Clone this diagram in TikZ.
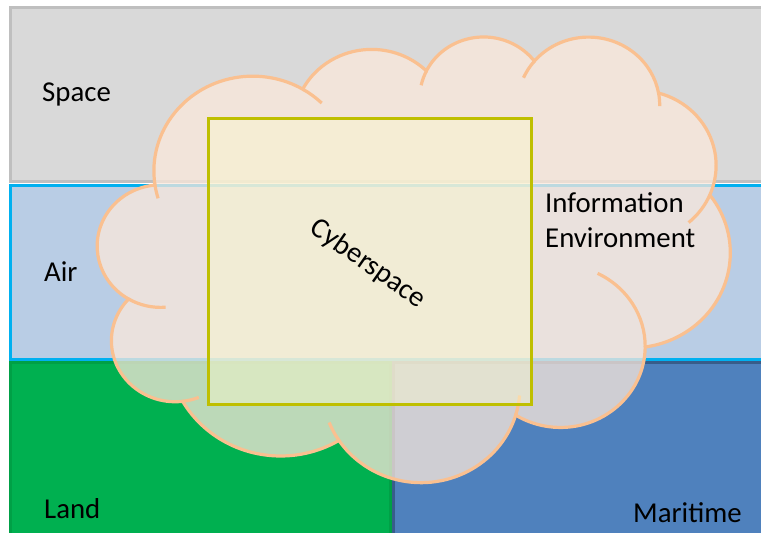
\documentclass[tikz,border=0pt]{standalone}
\usepackage{fontspec}
\setmainfont{Carlito}

\definecolor{spacefill}{HTML}{D9D9D9}
\definecolor{spaceline}{HTML}{BFBFBF}
\definecolor{airfill}{HTML}{B9CDE5}
\definecolor{airline}{HTML}{00B0F0}
\definecolor{landfill}{HTML}{00B050}
\definecolor{landline}{HTML}{00A046}
\definecolor{seafill}{HTML}{4F81BD}
\definecolor{sealine}{HTML}{385D8A}
\definecolor{cloudfill}{HTML}{FBE8DB}
\definecolor{cloudline}{HTML}{FAC090}
\definecolor{cyberfill}{HTML}{FAFACD}
\definecolor{cyberline}{HTML}{BFBF00}

\tikzset{%
  % Specifications for style of bands, labels and the cloud:
  band/.style={line width=3pt},
  domainlabel/.style={inner sep=0pt, anchor=base west, font=\fontsize{28.8}{35}\selectfont},
  cloud edge/.style={draw=cloudline, line width=3.2pt},
  cyber box/.style={draw=cyberline, line width=3pt, fill=cyberfill, fill opacity=0.45},
}

\begin{document}
\begin{tikzpicture}[x=1pt, y=1pt, yscale=-1]
    \useasboundingbox (0,0) rectangle (761,533);
    \clip (0,0) rectangle (761,533);
    \fill[white] (0,0) rectangle (761,533);

    % physical domains
    \draw[band, draw=spaceline, fill=spacefill] (10,7) rectangle (770,181.5);
    \draw[band, draw=airline, fill=airfill] (10,185.5) rectangle (770,359.5);
    \draw[band, draw=landline, fill=landfill] (10,362.5) rectangle (390,540);
    \draw[band, draw=sealine, fill=seafill] (393,362.5) rectangle (770,540);

    \node[domainlabel] (space) at (42,101) {Space};
    \node[domainlabel] (air) at (44,281) {Air};
    \node[domainlabel] (land) at (44,518) {Land};
    \node[domainlabel] (maritime) at (633,522) {Maritime};

    % cloud: eleven elliptic bumps (radii / start / end angle), chained
    \path[cloud edge, fill=cloudfill, fill opacity=0.75]
      (154.8,183.7)
      foreach \rx/\ry/\ta/\tb in {
        98.84/94.77/172.25/300.37,
        78.06/74.94/-152.01/-45.44,
        63.89/61.30/-153.50/-37.33,
        71.09/68.01/-139.70/-10.21,
        78.06/75.00/-74.77/23.21,
        99.17/95.08/-37.52/81.86,
        84.68/81.12/0.46/121.97,
        98.83/95.03/16.84/146.23,
        113.0/108.72/58.98/150.19,
        63.82/61.03/83.31/223.10,
        63.60/61.30/120.36/264.11}
      { arc[start angle=\ta, end angle=\tb, x radius=\rx, y radius=\ry] }
      -- cycle;

    % inner ends of the bumps: centre / radii / start / end angle
    \foreach \cx/\cy/\rx/\ry/\ta/\tb in {
        252.7/170.9/98.84/94.77/163.19/172.25,
        252.7/170.9/98.84/94.77/-59.64/-45.71,
        483.6/98.3/63.89/61.30/-167.73/-153.50,
        588.6/105.1/71.09/68.01/-156.29/-139.70,
        588.6/105.1/71.09/68.01/-10.21/0.82,
        638.1/165.4/78.06/75.00/23.21/49.65,
        560.5/346.3/84.68/81.12/-64.03/0.46,
        421.1/387.6/98.83/95.03/4.74/16.84,
        421.1/387.6/98.83/95.03/146.23/158.48,
        175.2/340.7/63.82/61.03/68.24/83.31,
        160.7/246.1/63.60/61.30/85.55/120.36}
      \draw[cloud edge] (\cx,\cy) ++({\rx*cos(\ta)},{\ry*sin(\ta)})
        arc[start angle=\ta, end angle=\tb, x radius=\rx, y radius=\ry];

    \node[domainlabel, align=left] (info) at (545,247) {Information\\Environment};

    % cyberspace
    \draw[cyber box] (208,118) rectangle (531,404);
    \node[domainlabel, anchor=center, rotate=-35] (cyber) at (368,264) {Cyberspace};
\end{tikzpicture}
\end{document}
